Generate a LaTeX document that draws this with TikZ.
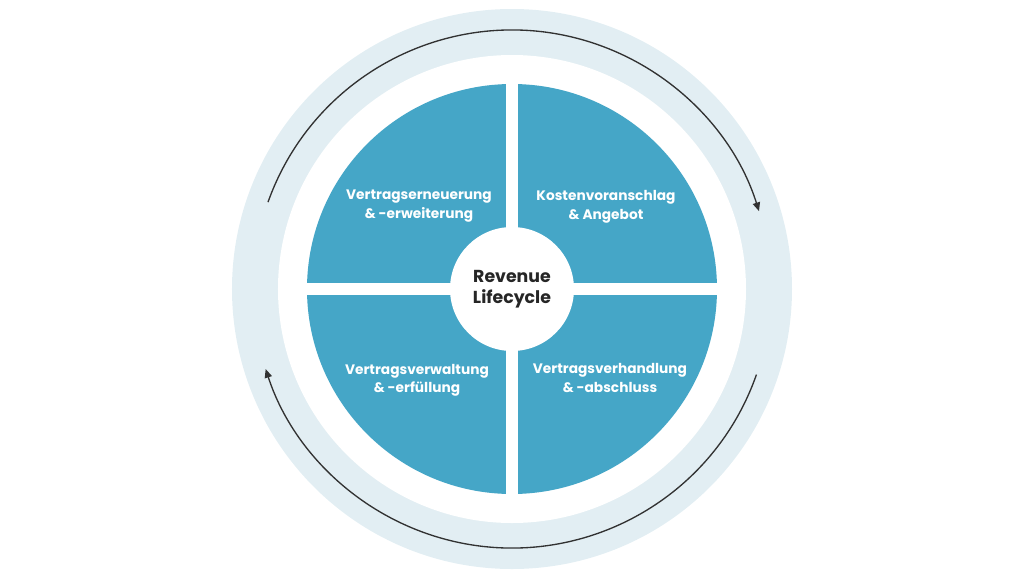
\documentclass[tikz,border=0pt]{standalone}
\usepackage{fontspec}
\setmainfont{Poppins}
\usetikzlibrary{arrows.meta}
\definecolor{segblue}{RGB}{69,166,199}
\definecolor{ringblue}{RGB}{226,238,243}
\definecolor{arcgray}{RGB}{50,50,50}
\begin{document}
\begin{tikzpicture}[x=0.75pt, y=0.75pt,
    seglabel/.style={text=white, font=\bfseries\fontsize{10.3}{13.8}\selectfont, align=center},
    hublabel/.style={text=black!85, font=\bfseries\fontsize{13}{15.5}\selectfont, align=center},
    cycle/.style={arcgray, line width=1pt, -{Triangle[length=6.5pt,width=5.5pt]}}]
  \useasboundingbox (-512,-287) rectangle (512,289);
  % rings and segments
  \fill[ringblue] (0,0) circle (280);
  \fill[white] (0,0) circle (234);
  \fill[segblue] (0,0) circle (205);
  \draw[white, line width=9pt] (-210,0) -- (210,0)
                               (0,-210) -- (0,210);
  \fill[white] (0,0) circle (62);
  % cycle arrows
  \draw[cycle] (160.4:259) arc (160.4:17.5:259);
  \draw[cycle] (-19.3:259) arc (-19.3:-162:259);
  % labels
  \node[hublabel] (hub) at (0,0) {Revenue\\Lifecycle};
  \node[seglabel] (renew) at (-93,83) {Vertragserneuerung\\\& -erweiterung};
  \node[seglabel] (quote) at (94,82) {Kostenvoranschlag\\\& Angebot};
  \node[seglabel] (manage) at (-95,-91) {Vertragsverwaltung\\\& -erfüllung};
  \node[seglabel] (close) at (98,-89) {Vertragsverhandlung\\\& -abschluss};
\end{tikzpicture}
\end{document}
